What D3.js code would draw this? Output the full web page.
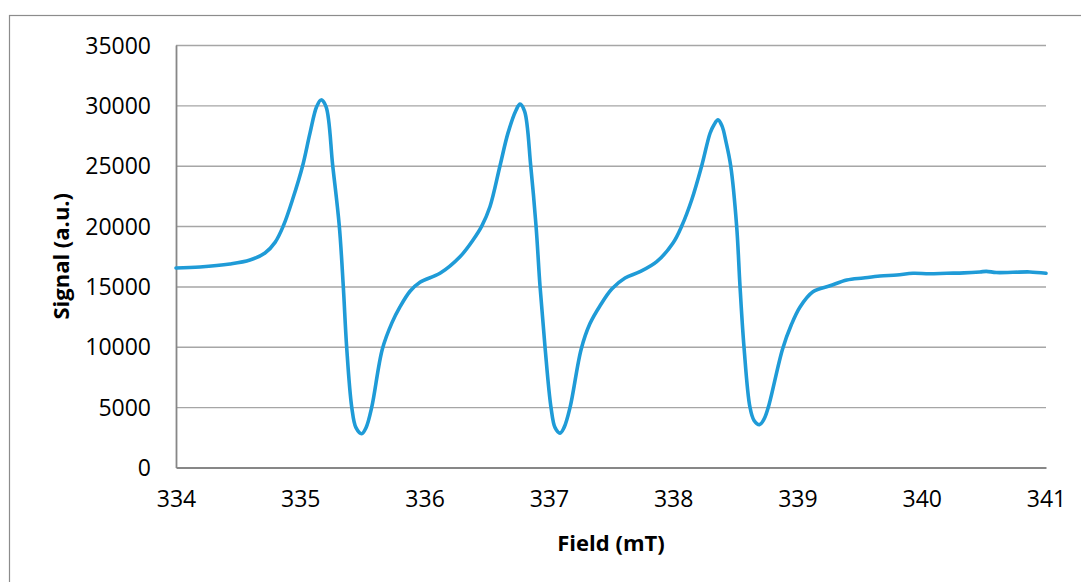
<!DOCTYPE html>
<html>
<head>
<meta charset="utf-8">
<script src="https://cdn.jsdelivr.net/npm/d3@7"></script>
<style>
  html, body { margin: 0; padding: 0; background: #fff; }
  svg { display: block; }
  text { font-family: "Open Sans", "Liberation Sans", sans-serif; fill: #000; }
</style>
</head>
<body>
<svg id="chart" width="1081" height="582"></svg>
<script>
// ---- data ----
const field = [
  334.000, 334.193, 334.434, 334.595, 334.716, 334.797, 334.863, 334.941, 335.019, 335.078,
  335.132, 335.167, 335.207, 335.261, 335.314, 335.346, 335.373, 335.414, 335.448, 335.494,
  335.529, 335.575, 335.660, 335.738, 335.802, 335.883, 335.963, 336.124, 336.285, 336.390,
  336.460, 336.526, 336.607, 336.671, 336.736, 336.768, 336.805, 336.854, 336.897, 336.929,
  336.969, 337.017, 337.050, 337.090, 337.122, 337.171, 337.260, 337.330, 337.412, 337.508,
  337.613, 337.733, 337.868, 337.999, 338.069, 338.149, 338.230, 338.297, 338.329, 338.361,
  338.393, 338.425, 338.463, 338.511, 338.538, 338.570, 338.618, 338.651, 338.695, 338.731,
  338.766, 338.880, 338.950, 339.021, 339.125, 339.262, 339.397, 339.530, 339.664, 339.800,
  339.930, 340.060, 340.201, 340.340, 340.469, 340.520, 340.600, 340.734, 340.870, 341.000
];
const signal = [
  16530, 16610, 16860, 17190, 17770, 18650, 20000, 22300, 25000, 27700,
  29900, 30450, 29900, 25000, 20000, 15000, 10000, 5000, 3300, 2800,
  3300, 5000, 9800, 12000, 13300, 14600, 15350, 16090, 17460, 18850,
  20000, 21600, 25000, 27700, 29600, 30100, 29500, 25000, 20000, 15000,
  10000, 5000, 3300, 2850, 3300, 5000, 9800, 11900, 13400, 14800,
  15700, 16220, 17050, 18600, 20000, 22160, 25000, 27690, 28400, 28800,
  28300, 27000, 25000, 20000, 15000, 10000, 5000, 3900, 3550, 4000,
  5000, 9800, 11800, 13300, 14560, 15050, 15530, 15700, 15860, 15950,
  16090, 16050, 16090, 16120, 16200, 16250, 16150, 16170, 16200, 16090
];
const yTicks = [0, 5000, 10000, 15000, 20000, 25000, 30000, 35000];
const xTicks = [334, 335, 336, 337, 338, 339, 340, 341];
const xTitle = "Field (mT)";
const yTitle = "Signal (a.u.)";

// ---- layout ----
const svg = d3.select("#chart");
const L = 176, R = 1046, T = 45, B = 467.5;

const x = d3.scaleLinear().domain([334, 341]).range([L, R]);
const y = d3.scaleLinear().domain([0, 35000]).range([B, T]);

// outer chart border
svg.append("rect")
  .attr("x", 9.5).attr("y", 15.5)
  .attr("width", 1200).attr("height", 700)
  .attr("fill", "none").attr("stroke", "#8c8c8c").attr("stroke-width", 1.2);

// gridlines
const grid = svg.append("g").attr("transform", `translate(${L},0)`)
  .call(d3.axisLeft(y).tickValues(yTicks.filter(v => v > 0)).tickSize(-(R - L)).tickFormat(""));
grid.select(".domain").remove();
grid.selectAll("line").attr("stroke", "#a6a6a6").attr("stroke-width", 1.4);

// y axis
const ya = svg.append("g").attr("transform", `translate(${L},0)`)
  .call(d3.axisLeft(y).tickValues(yTicks).tickSize(0).tickPadding(25).tickFormat(d3.format("d")));
ya.select(".domain").attr("stroke", "#878787").attr("stroke-width", 1.8);
ya.selectAll("text").attr("font-size", 23).attr("font-family", "'Open Sans', sans-serif").attr("dy", "0.35em");

// x axis
const xa = svg.append("g").attr("transform", `translate(0,${B})`)
  .call(d3.axisBottom(x).tickValues(xTicks).tickSize(0).tickPadding(23).tickFormat(d3.format("d")));
xa.select(".domain").attr("stroke", "#878787").attr("stroke-width", 1.8);
xa.selectAll("text").attr("font-size", 23).attr("font-family", "'Open Sans', sans-serif");

// line
const pts = field.map((f, i) => [f, signal[i]]);
svg.append("path")
  .datum(pts)
  .attr("fill", "none")
  .attr("stroke", "#1f9bd7")
  .attr("stroke-width", 3.6)
  .attr("stroke-linejoin", "round")
  .attr("stroke-linecap", "round")
  .attr("d", d3.line().x(d => x(d[0])).y(d => y(d[1])).curve(d3.curveCatmullRom.alpha(0.5)));

// axis titles
svg.append("text")
  .attr("x", (L + R) / 2).attr("y", 551)
  .attr("text-anchor", "middle")
  .attr("font-size", 22).attr("font-weight", "bold")
  .text(xTitle);

svg.append("text")
  .attr("transform", `translate(69,${(T + B) / 2}) rotate(-90)`)
  .attr("text-anchor", "middle")
  .attr("font-size", 22).attr("font-weight", "bold")
  .text(yTitle);
</script>
</body>
</html>
